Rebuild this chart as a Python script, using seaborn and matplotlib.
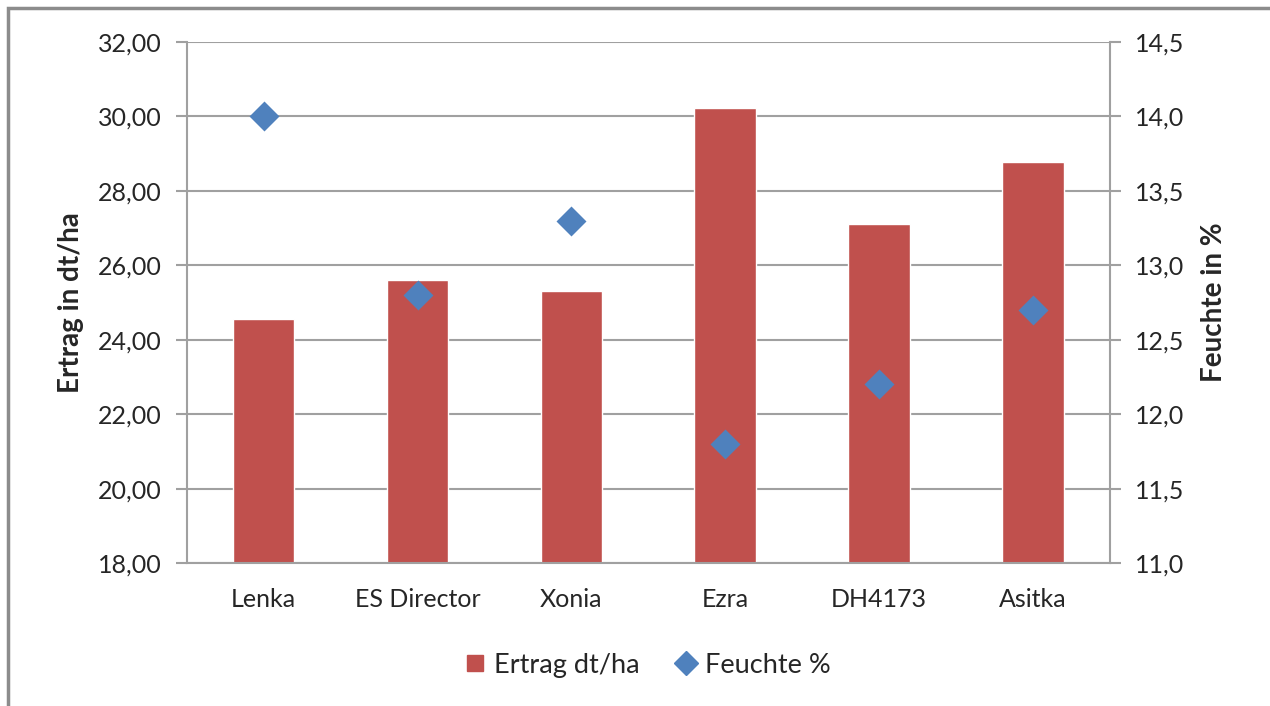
import seaborn as sns
import matplotlib.pyplot as plt
import pandas as pd

sorten = ["Lenka", "ES Director", "Xonia", "Ezra", "DH4173", "Asitka"]
ertrag = [24.55, 25.6, 25.32, 30.22, 27.12, 28.78]
feuchte = [14.0, 12.8, 13.3, 11.8, 12.2, 12.7]

links_ticks = [18, 20, 22, 24, 26, 28, 30, 32]
rechts_ticks = [11.0, 11.5, 12.0, 12.5, 13.0, 13.5, 14.0, 14.5]

df = pd.DataFrame({"Sorte": sorten, "Ertrag": ertrag, "Feuchte": feuchte})

sns.set_style("white")
plt.rcParams['font.family'] = ['Lato', 'DejaVu Sans']

rot = "#C0504D"
blau = "#4F81BD"
grau = "#A0A0A0"

fig = plt.figure(figsize=(12.7, 7.06), dpi=100)
ax = fig.add_axes([0.147, 0.2025, 0.727, 0.738])

sns.barplot(data=df, x="Sorte", y="Ertrag", color=rot, width=0.4,
            saturation=1, ax=ax, zorder=2)
ax.set_ylim(18, 32)
ax.set_yticks(links_ticks)
ax.set_yticklabels([f"{v:.2f}".replace(".", ",") for v in links_ticks])
ax.set_xlim(-0.5, 5.5)
ax.yaxis.grid(True, color=grau, linewidth=1.5, zorder=0)
ax.set_axisbelow(True)
ax.set_xlabel("")
ax.set_ylabel("Ertrag in dt/ha", fontsize=20, fontweight="bold", labelpad=10)

ax2 = ax.twinx()
sns.pointplot(data=df, x="Sorte", y="Feuchte", color=blau, markers="D",
              linestyle="none", markersize=13, ax=ax2)
ax2.set_ylim(11, 14.5)
ax2.set_yticks(rechts_ticks)
ax2.set_yticklabels([f"{v:.1f}".replace(".", ",") for v in rechts_ticks])
ax2.set_xlim(-0.5, 5.5)
ax2.set_xlabel("")
ax2.set_ylabel("Feuchte in %", fontsize=20, fontweight="bold", labelpad=12)

for a in (ax, ax2):
    for s in a.spines.values():
        s.set_visible(False)
    a.tick_params(axis="y", length=8, width=1.5, color=grau, labelsize=18, pad=10)
    a.tick_params(axis="x", length=0, labelsize=18, pad=18)
ax.spines["left"].set_visible(True)
ax.spines["left"].set_color(grau)
ax.spines["left"].set_linewidth(1.5)
ax.spines["bottom"].set_visible(True)
ax.spines["bottom"].set_color(grau)
ax.spines["bottom"].set_linewidth(1.5)
ax2.spines["right"].set_visible(True)
ax2.spines["right"].set_color(grau)
ax2.spines["right"].set_linewidth(1.5)

# Legende unten
h1 = plt.Line2D([], [], marker="s", linestyle="none", color=rot, markersize=12)
h2 = plt.Line2D([], [], marker="D", linestyle="none", color=blau, markersize=12)
fig.legend([h1, h2], ["Ertrag dt/ha", "Feuchte %"], loc="center",
           bbox_to_anchor=(0.51, 0.058), ncol=2, frameon=False, fontsize=19.5,
           handlelength=0.8, handletextpad=0.3, columnspacing=1.3)

# Rahmen des Diagrammbereichs
rahmen = plt.Rectangle((8 / 1270, -0.1), 1.2, 1 - 8 / 706 + 0.1, transform=fig.transFigure,
                       fill=False, edgecolor="#8C8C8C", linewidth=2.5)
fig.patches.append(rahmen)

fig.savefig("out.png", dpi=100)
